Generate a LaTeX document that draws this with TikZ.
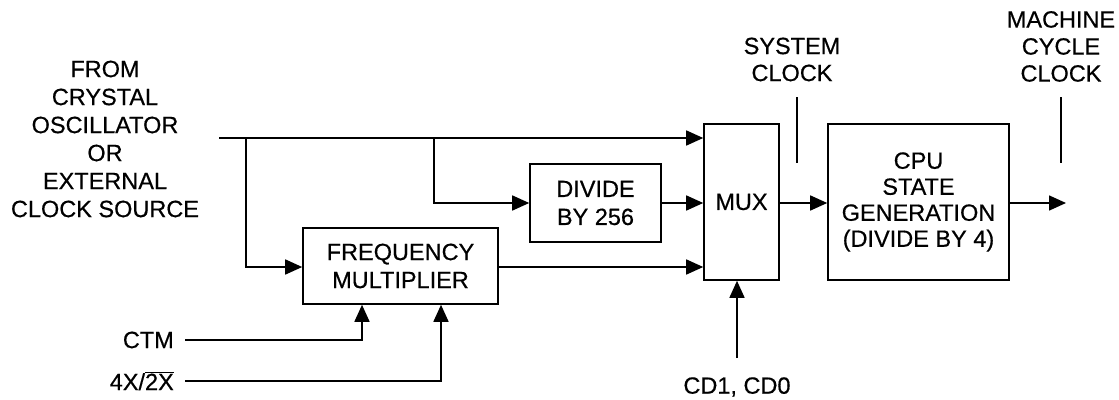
\documentclass[tikz,border=0pt]{standalone}
\usepackage{fontspec}
\setmainfont{Liberation Sans}
\newfontfamily\thickfont{Liberation Sans}[FakeBold=0.5]
\usetikzlibrary{arrows.meta}
\begin{document}
\begin{tikzpicture}[x=1pt,y=-1pt,
  every node/.style={font=\thickfont\fontsize{23.5}{28}\selectfont, inner sep=0pt},
  blk/.style={draw, line width=1.6pt, align=center},
  wire/.style={line width=1.6pt},
  arr/.style={wire, -{Triangle[length=17pt,width=15pt]}},
  lbl/.style={align=center}]
\useasboundingbox (0,0) rectangle (1119,399);
% blocks
\node[blk, minimum width=195pt, minimum height=76pt] (fm) at (400.5,266) {FREQUENCY\\MULTIPLIER};
\node[blk, minimum width=131pt, minimum height=78pt] (div) at (595.5,203) {DIVIDE\\BY 256};
\node[blk, minimum width=75pt, minimum height=156pt] (mux) at (741.5,202) {MUX};
\node[blk, minimum width=181pt, minimum height=156pt, font=\thickfont\fontsize{23.5}{26}\selectfont] (cpu) at (918.5,202) {CPU\\STATE\\GENERATION\\(DIVIDE BY 4)};
% labels
\node[lbl] (src) at (105,139) {FROM\\CRYSTAL\\OSCILLATOR\\OR\\EXTERNAL\\CLOCK SOURCE};
\node[anchor=east] (ctm) at (174,340) {CTM};
\node[anchor=east] (x42) at (174,381) {4X/$\overline{\mbox{2X}}$};
\node (cd) at (737,387) {CD1, CD0};
\node[lbl, font=\thickfont\fontsize{23.5}{27}\selectfont] (sys) at (792,59.5) {SYSTEM\\CLOCK};
\node[lbl, font=\thickfont\fontsize{23.5}{27}\selectfont] (mcc) at (1061,46.5) {MACHINE\\CYCLE\\CLOCK};
% coordinates
\coordinate (in) at (219,138);
\coordinate (j1) at (246,138);
\coordinate (j2) at (434,138);
\coordinate (ctmE) at (185,340);
\coordinate (x42E) at (185,381);
\coordinate (cdS) at (737,358);
\coordinate (out) at (1066,203);
\coordinate (st1) at (797,97);
\coordinate (st2) at (797,163);
\coordinate (mt1) at (1061,97);
\coordinate (mt2) at (1061,163);
% wires
\draw[arr] (in) -- (in -| mux.west);
\draw[arr] (j1) |- (fm.west |- 0,267);
\draw[arr] (j2) |- (div.west);
\draw[arr] (div.east) -- (div.east -| mux.west);
\draw[arr] (fm.east |- 0,267) -- (mux.west |- 0,267);
\draw[arr] (mux.east |- 0,203) -- (cpu.west |- 0,203);
\draw[arr] (cpu.east |- 0,203) -- (out);
\draw[arr] (ctmE) -| (fm.south -| 362,0);
\draw[arr] (x42E) -| (fm.south -| 441,0);
\draw[arr] (cdS) -- (cdS |- mux.south);
\draw[wire, line width=1.3pt] (st1) -- (st2);
\draw[wire, line width=1.3pt] (mt1) -- (mt2);
\end{tikzpicture}
\end{document}
